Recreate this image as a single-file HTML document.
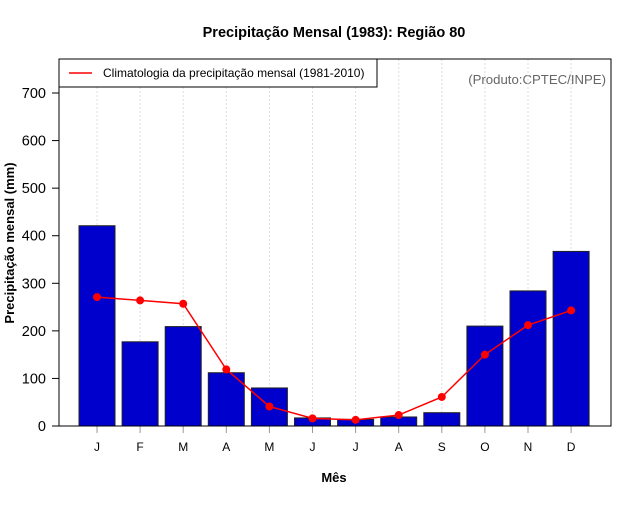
<!DOCTYPE html>
<html><head><meta charset="utf-8"><style>
body{margin:0;background:#fff;}
svg text{font-family:"Liberation Sans",sans-serif;}
</style></head><body>
<svg id="c" width="640" height="500" xmlns="http://www.w3.org/2000/svg">
<text x="334" y="37" text-anchor="middle" font-size="14.5" font-weight="bold">Precipitação Mensal (1983): Região 80</text>
<text x="334" y="482" text-anchor="middle" font-size="13" font-weight="bold">Mês</text>
<text transform="translate(14,243) rotate(-90)" text-anchor="middle" font-size="13" font-weight="bold">Precipitação mensal (mm)</text>
<text x="606" y="84" text-anchor="end" font-size="13.2" fill="#666">(Produto:CPTEC/INPE)</text>
<g id="grid"></g><g id="bars"></g><g id="line"></g><g id="axes"></g>
<rect x="59" y="59" width="552" height="367" fill="none" stroke="#000"/>
<g>
<rect x="59" y="59" width="318" height="28" fill="#fff" stroke="#000"/>
<line x1="69" y1="73" x2="92" y2="73" stroke="red" stroke-width="1.5"/>
<text x="103" y="77" font-size="12">Climatologia da precipitação mensal (1981-2010)</text>
</g>
</svg>
<script>
const months=["J","F","M","A","M","J","J","A","S","O","N","D"];
const precip=[421,177,209,112,80,17,14,19,28,210,284,367];
const climatology=[271,264,257,119,41,16,13,23,61,150,212,243];
const yTicks=[0,100,200,300,400,500,600,700];
const NS="http://www.w3.org/2000/svg";
const svg=document.getElementById('c');
const X=i=>97+i*43.1;
const Y=v=>426-v*0.4757;
function mk(t,a,p){const e=document.createElementNS(NS,t);for(const k in a)e.setAttribute(k,a[k]);p.appendChild(e);return e;}
const grid=document.getElementById('grid'),bars=document.getElementById('bars'),line=document.getElementById('line'),axes=document.getElementById('axes');
months.forEach((m,i)=>{
 const g=mk('line',{x1:X(i),x2:X(i),y1:59,y2:426,stroke:'#ddd','stroke-dasharray':'2,2'},grid);
 
 
 const b=mk('rect',{x:X(i)-18,y:Y(precip[i]),width:36,height:426-Y(precip[i]),fill:'#0000cd',stroke:'#222'},bars);
 
 
 const tk=mk('line',{x1:X(i),x2:X(i),y1:426,y2:433,stroke:'#999'},axes);
 
 
 const t=mk('text',{x:X(i),y:451,'text-anchor':'middle','font-size':12},axes);
 t.textContent=m;
 
 
});
const pl=mk('polyline',{points:climatology.map((v,i)=>X(i)+','+Y(v)).join(' '),fill:'none',stroke:'red','stroke-width':1.5},line);


climatology.forEach((v,i)=>{
 const c=mk('circle',{cx:X(i),cy:Y(v),r:4,fill:'red'},line);
 
 
});
yTicks.forEach(v=>{
 const tk=mk('line',{x1:52,x2:59,y1:Y(v),y2:Y(v),stroke:'#000'},axes);
 
 
 const t=mk('text',{x:46,y:Y(v)+5,'text-anchor':'end','font-size':14.5},axes);
 t.textContent=v;
 
 
});
</script>
</body></html>
